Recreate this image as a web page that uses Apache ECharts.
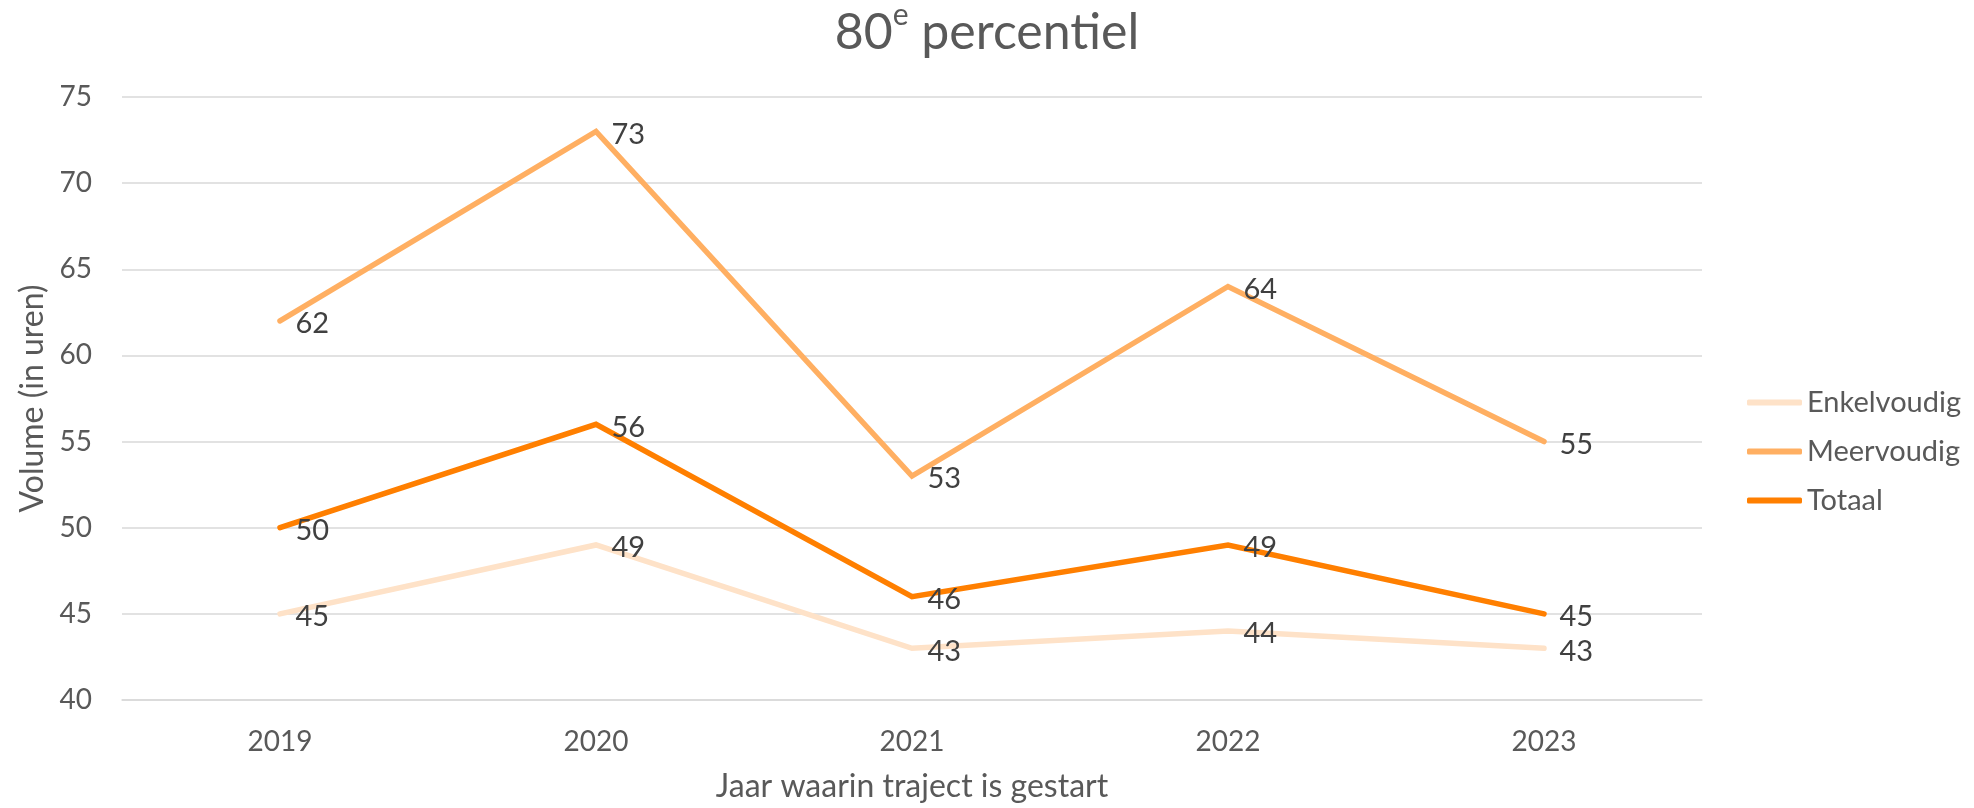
<!DOCTYPE html>
<html>
<head>
<meta charset="utf-8">
<script src="https://cdn.jsdelivr.net/npm/echarts@6/dist/echarts.min.js"></script>
<style>
html,body{margin:0;padding:0;background:#fff;}
#chart{width:1974px;height:808px;}
</style>
</head>
<body>
<div id="chart"></div>
<script>
const categories = ['2019', '2020', '2021', '2022', '2023'];
const enkelvoudig = [45, 49, 43, 44, 43];
const meervoudig = [62, 73, 53, 64, 55];
const totaal = [50, 56, 46, 49, 45];
const seriesNames = ['Enkelvoudig', 'Meervoudig', 'Totaal'];
const seriesColors = ['#FEE2C8', '#FFAF62', '#FF7F00'];
const yMin = 40, yMax = 75, yStep = 5;

const FONT = 'Lato, "Open Sans", sans-serif';
const chart = echarts.init(document.getElementById('chart'));

function mkSeries(name, data, color, z) {
  return {
    name: name,
    type: 'line',
    data: data,
    z: z,
    symbol: 'circle',
    symbolSize: 1,
    showSymbol: true,
    itemStyle: { color: color },
    lineStyle: { color: color, width: 5.5, cap: 'round', join: 'miter' },
    emphasis: { disabled: true },
    label: {
      show: true,
      position: 'right',
      distance: 15,
      offset: [0, 3],
      fontFamily: FONT,
      fontSize: 29,
      color: '#404040'
    }
  };
}

chart.setOption({
  animation: false,
  backgroundColor: '#ffffff',
  title: {
    text: '{a|80}{s|e}{a| percentiel}',
    left: 'center',
    top: -7,
    textStyle: {
      fontWeight: 'normal',
      rich: {
        a: { fontFamily: FONT, fontSize: 50, fontWeight: 'normal', color: '#595959', lineHeight: 60, verticalAlign: 'bottom' },
        s: { fontFamily: FONT, fontSize: 30, fontWeight: 'normal', color: '#595959', lineHeight: 60, verticalAlign: 'top', padding: [2, 0, 0, 0] }
      }
    }
  },
  legend: {
    orient: 'vertical',
    left: 1742,
    top: 383,
    itemWidth: 55,
    itemHeight: 6,
    itemGap: 20,
    icon: 'roundRect',
    data: seriesNames,
    textStyle: { fontFamily: FONT, fontSize: 29, color: '#595959' }
  },
  grid: { left: 122, right: 272, top: 97, bottom: 108, containLabel: false },
  xAxis: {
    type: 'category',
    data: categories,
    boundaryGap: true,
    axisLine: { show: true, lineStyle: { color: '#D9D9D9', width: 1.5 } },
    axisTick: { show: false },
    axisLabel: { fontFamily: FONT, fontSize: 28, color: '#595959', margin: 28 },
    name: 'Jaar waarin traject is gestart',
    nameLocation: 'middle',
    nameGap: 71,
    nameTextStyle: { fontFamily: FONT, fontSize: 32, color: '#595959' }
  },
  yAxis: {
    type: 'value',
    min: yMin,
    max: yMax,
    interval: yStep,
    axisLine: { show: false },
    axisTick: { show: false },
    splitLine: { lineStyle: { color: '#D9D9D9', width: 1.5 } },
    axisLabel: { fontFamily: FONT, fontSize: 28, color: '#595959', margin: 30 },
    name: 'Volume (in uren)',
    nameLocation: 'middle',
    nameGap: 67,
    nameTextStyle: { fontFamily: FONT, fontSize: 32, color: '#595959' }
  },
  series: [
    mkSeries(seriesNames[0], enkelvoudig, seriesColors[0], 2),
    mkSeries(seriesNames[1], meervoudig, seriesColors[1], 3),
    mkSeries(seriesNames[2], totaal, seriesColors[2], 4)
  ]
});
</script>
</body>
</html>
